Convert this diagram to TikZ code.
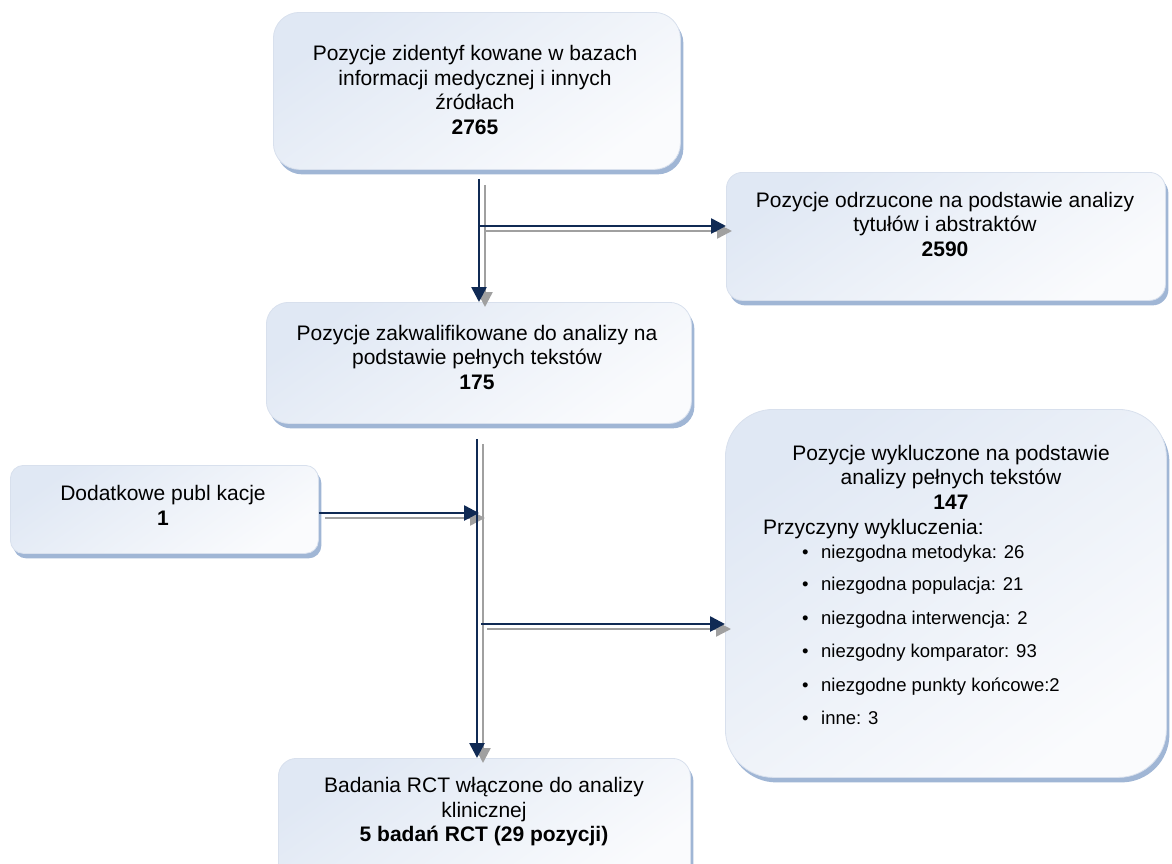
\documentclass[tikz,border=0pt]{standalone}
\usepackage{fontspec}
\setmainfont{Liberation Sans}
\usetikzlibrary{arrows.meta,shadows}
\definecolor{navy}{RGB}{16,42,84}
\definecolor{sgray}{RGB}{160,160,160}
\definecolor{boxtop}{RGB}{224,232,244}
\definecolor{boxbot}{RGB}{250,251,253}
\definecolor{boxline}{RGB}{216,224,237}
\definecolor{shadowc}{RGB}{160,182,213}
\tikzset{
  box/.style={draw=boxline, line width=0.8pt, rounded corners=#1, inner sep=0pt,
    top color=boxtop, bottom color=boxbot, shading angle=35,
    drop shadow={shadow xshift=3pt, shadow yshift=-5pt, fill=shadowc, opacity=1},
    anchor=north west},
  txt/.style={align=center, font=\fontsize{21}{24.5}\selectfont, inner sep=0pt},
  itm/.style={anchor=base west, font=\fontsize{18.5}{22}\selectfont, inner sep=0pt},
  darr/.style={draw=navy, line width=2.6pt, -{Triangle[length=15pt,width=15pt]}},
  sarr/.style={draw=sgray, line width=2.4pt, -{Triangle[length=15pt,width=15pt]},
    transform canvas={xshift=6pt, yshift=-5pt}},
}
\begin{document}
\begin{tikzpicture}[x=1pt, y=-1pt]
\useasboundingbox (0,0) rectangle (1172,863);
% boxes
\node[box=26pt, minimum width=407pt, minimum height=157pt] (b1) at (273,12) {};
\node[box=16pt, minimum width=439pt, minimum height=128pt] (b2) at (726,172) {};
\node[box=22pt, minimum width=425pt, minimum height=121pt] (b3) at (266,302) {};
\node[box=13pt, minimum width=308pt, minimum height=88pt] (b4) at (10,465) {};
\node[box=48pt, minimum width=441pt, minimum height=368pt] (b5) at (725,409) {};
\node[box=18pt, minimum width=412pt, minimum height=125pt] (b6) at (278,758) {};
% texts
\node[txt] (t1) at (475,90) {Pozycje zidentyf kowane w bazach\\informacji medycznej i innych\\źródłach\\\textbf{2765}};
\node[txt] (t2) at (945,224) {Pozycje odrzucone na podstawie analizy\\tytułów i abstraktów\\\textbf{2590}};
\node[txt] (t3) at (477,357) {Pozycje zakwalifikowane do analizy na\\podstawie pełnych tekstów\\\textbf{175}};
\node[txt] (t4) at (163,505.5) {Dodatkowe publ kacje\\\textbf{1}};
\node[txt] (t5) at (951,477) {Pozycje wykluczone na podstawie\\analizy pełnych tekstów\\\textbf{147}};
\node[txt, anchor=base west] (t5b) at (763,534.5) {Przyczyny wykluczenia:};
\node[itm] (d1) at (802,558.5) {•};
\node[itm] (i1) at (821,558.5) {niezgodna metodyka: 26};
\node[itm] (d2) at (802,590.5) {•};
\node[itm] (i2) at (821,590.5) {niezgodna populacja: 21};
\node[itm] (d3) at (802,624.5) {•};
\node[itm] (i3) at (821,624.5) {niezgodna interwencja: 2};
\node[itm] (d4) at (802,657.5) {•};
\node[itm] (i4) at (821,657.5) {niezgodny komparator: 93};
\node[itm] (d5) at (802,691.5) {•};
\node[itm] (i5) at (821,691.5) {niezgodne punkty końcowe:2};
\node[itm] (d6) at (802,724.5) {•};
\node[itm] (i6) at (821,724.5) {inne: 3};
\node[txt] (t6) at (484,812) {Badania RCT włączone do analizy\\klinicznej\\\textbf{5 badań RCT (29 pozycji)}};
% connectors
\coordinate (c1) at (479,0);
\coordinate (j1) at (479,226);
\coordinate (c2) at (477,0);
\coordinate (j3) at (479,513);
\coordinate (j4) at (477,624);
% shadows
\draw[sarr] (b1.south -| c1) ++(0,10) -- (b3.north -| c1);
\draw[sarr] (j1) -- (j1 -| b2.west);
\draw[sarr] (b3.south -| c2) ++(0,15) -- (b6.north -| c2);
\draw[sarr] (b4.east |- j3) -- (j3);
\draw[sarr] (j4) ++(4,0) -- (j4 -| b5.west);
% dark lines
\draw[darr] (b1.south -| c1) ++(0,9) -- (b3.north -| c1);
\draw[darr] (j1) -- (j1 -| b2.west);
\draw[darr] (b3.south -| c2) ++(0,15) -- (b6.north -| c2);
\draw[darr] (b4.east |- j3) -- (j3);
\draw[darr] (j4) ++(4,0) -- (j4 -| b5.west);
\end{tikzpicture}
\end{document}
